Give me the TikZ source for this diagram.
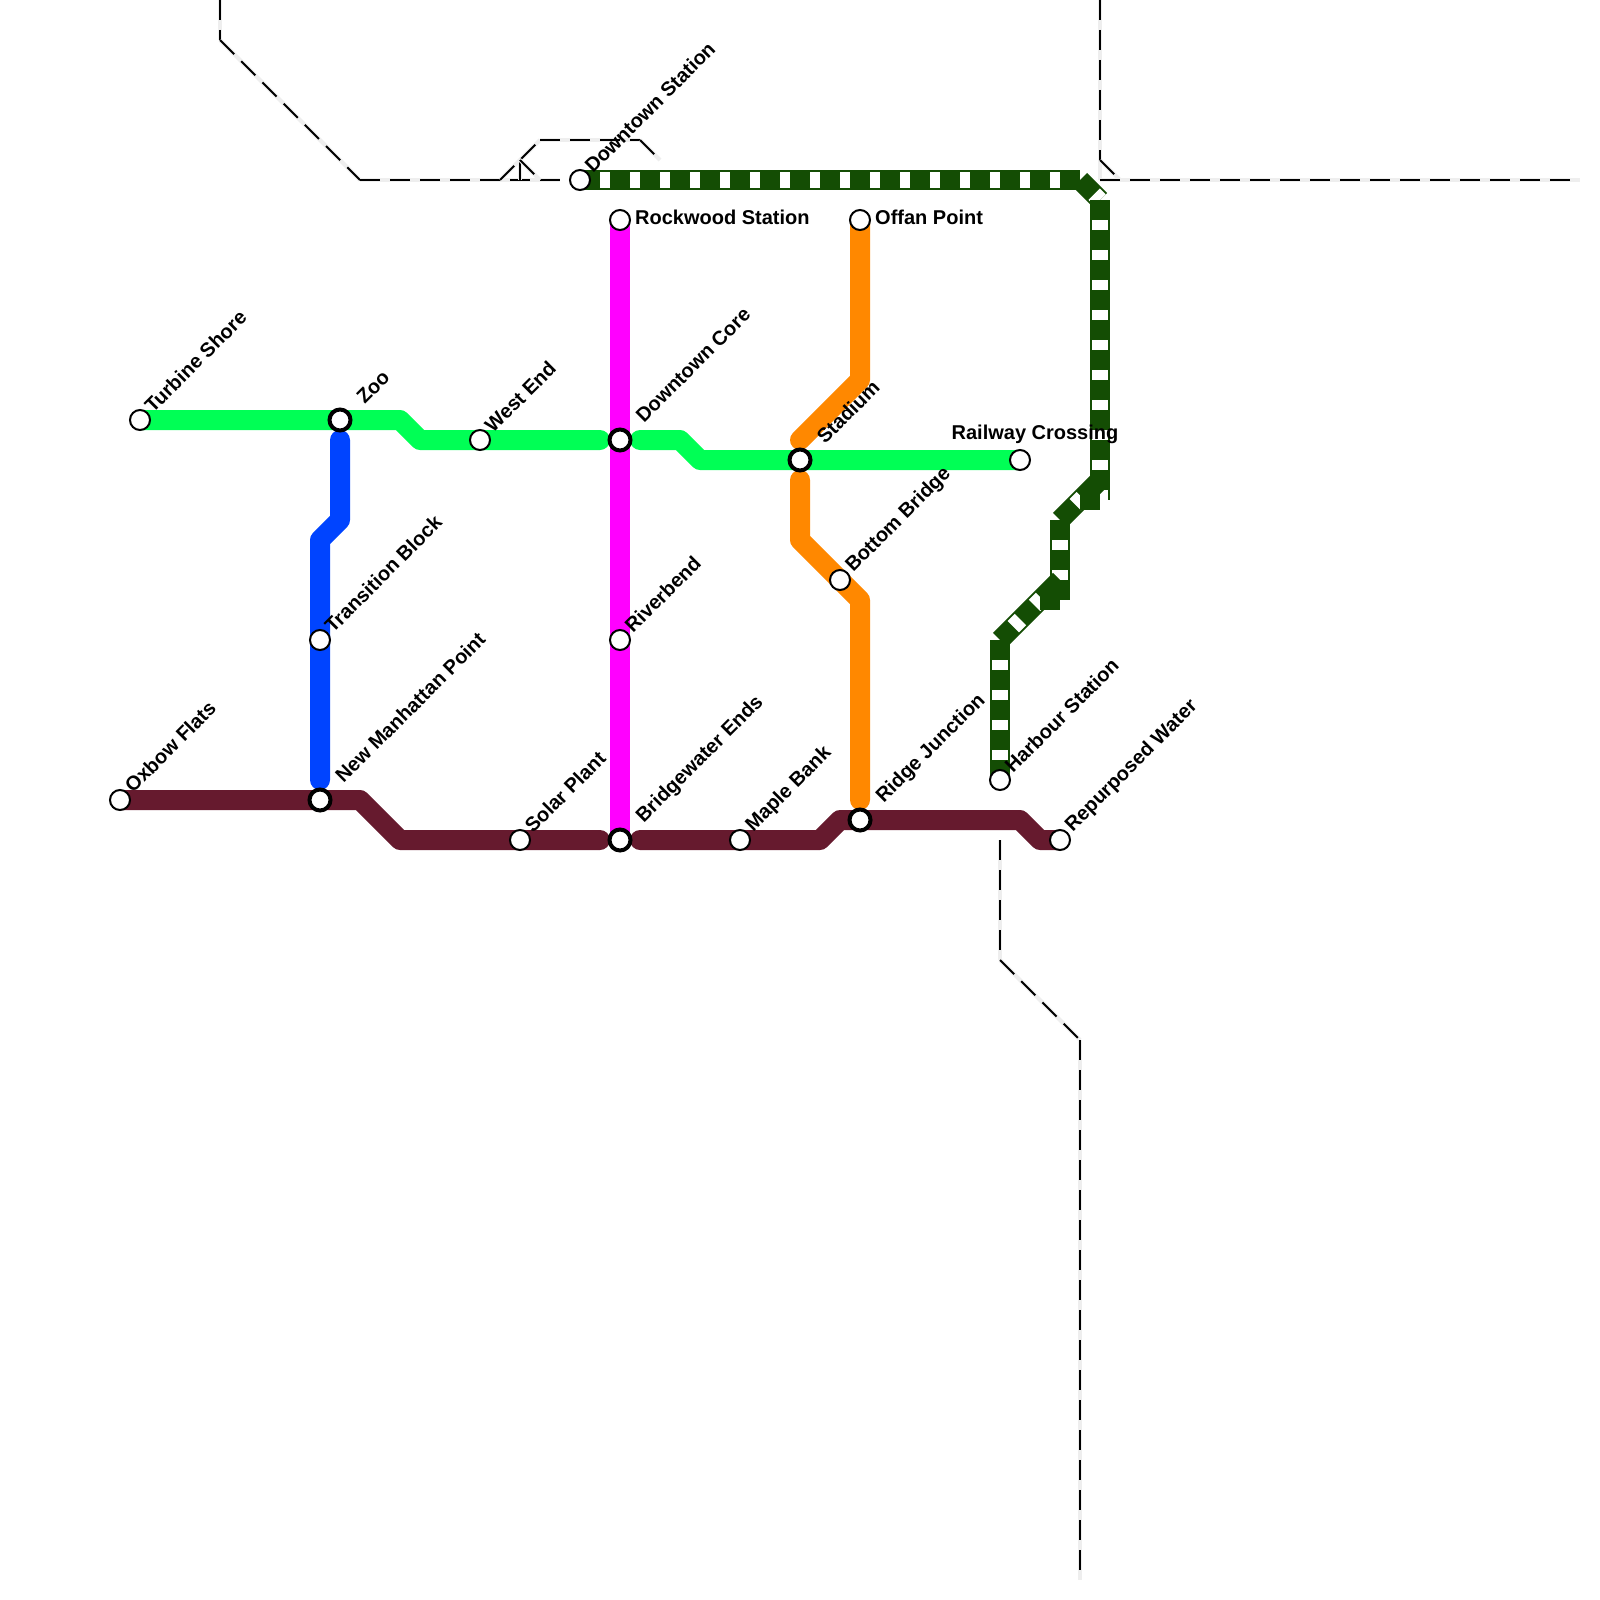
\documentclass[tikz,border=0pt]{standalone}
\usepackage{fontspec}
\setmainfont{Liberation Sans}
\usetikzlibrary{calc}
\pgfdeclarelayer{lines}
\pgfsetlayers{lines,main}
\definecolor{cgreen}{HTML}{00FF55}
\definecolor{cblue}{HTML}{0044FF}
\definecolor{cmag}{HTML}{FF00FF}
\definecolor{corange}{HTML}{FF8800}
\definecolor{cbrown}{HTML}{661A2E}
\definecolor{cdark}{HTML}{144D04}
\definecolor{cgap}{HTML}{EEEEEE}
\tikzset{
  x=1pt,y=-1pt,
  station/.style={circle,draw=black,fill=white,line width=2pt,minimum size=20pt,inner sep=0pt},
  hub/.style={circle,draw=black,fill=white,line width=4pt,minimum size=21pt,inner sep=0pt},
  lab/.style={font=\bfseries\fontsize{20}{24}\selectfont,inner sep=0pt,text=black},
  rlab/.style={lab,rotate=45,anchor=west},
  metro/.style={line width=20pt,line cap=round,line join=round},
  gapline/.style={line width=4pt,cgap},
  dashline/.style={line width=2pt,black,dash pattern=on 20pt off 10pt},
  darkseg/.style={line width=20pt,cdark},
  whiteseg/.style={line width=16pt,white,dash pattern=on 10pt off 20pt,dash phase=10pt},
  whitebit/.style={line width=16pt,white}
}
\newcommand{\dashseg}[2]{\draw[gapline] (#1) -- (#2); \draw[dashline] (#1) -- (#2);}
\newcommand{\darkrun}[2]{\draw[darkseg] (#1) -- (#2); \draw[whiteseg] (#1) -- (#2);}
\begin{document}
\begin{tikzpicture}
\useasboundingbox (0,0) rectangle (1600,1600);
% stations
\node[station] (oxbow) at (120,800) {};
\node[station] (turbine) at (140,420) {};
\node[hub] (zoo) at (340,420) {};
\node[station] (westend) at (480,440) {};
\node[hub] (dtcore) at (620,440) {};
\node[hub] (stadium) at (800,460) {};
\node[station] (railway) at (1020,460) {};
\node[station] (rockwood) at (620,220) {};
\node[station] (offan) at (860,220) {};
\node[station] (dtstation) at (580,180) {};
\node[station] (transition) at (320,640) {};
\node[hub] (manhattan) at (320,800) {};
\node[station] (riverbend) at (620,640) {};
\node[hub] (bridgewater) at (620,840) {};
\node[station] (solar) at (520,840) {};
\node[station] (maple) at (740,840) {};
\node[hub] (ridge) at (860,820) {};
\node[station] (repurposed) at (1060,840) {};
\node[station] (harbour) at (1000,780) {};
\node[station] (bottom) at (840,580) {};
% labels
\node[lab,anchor=west] (lrockwood) at (635,217) {Rockwood Station};
\node[lab,anchor=west] (loffan) at (875,217) {Offan Point};
\node[lab] (lrailway) at (1035,434) {Railway Crossing};
\node[rlab] (loxbow) at ($(oxbow)+(8,-11)$) {Oxbow Flats};
\node[rlab] (lturbine) at ($(turbine)+(8,-11)$) {Turbine Shore};
\node[rlab] (lwestend) at ($(westend)+(8,-11)$) {West End};
\node[rlab] (ldtstation) at ($(dtstation)+(8,-11)$) {Downtown Station};
\node[rlab] (ltransition) at ($(transition)+(8,-11)$) {Transition Block};
\node[rlab] (lriverbend) at ($(riverbend)+(8,-11)$) {Riverbend};
\node[rlab] (lsolar) at ($(solar)+(8,-11)$) {Solar Plant};
\node[rlab] (lmaple) at ($(maple)+(9.5,-11)$) {Maple Bank};
\node[rlab] (lrepurposed) at ($(repurposed)+(9,-11)$) {Repurposed Water};
\node[rlab] (lharbour) at ($(harbour)+(8,-11)$) {Harbour Station};
\node[rlab] (lbottom) at ($(bottom)+(9.5,-10.5)$) {Bottom Bridge};
\node[rlab] (lzoo) at ($(zoo)+(20,-20)$) {Zoo};
\node[rlab] (ldtcore) at ($(dtcore)+(19,-21)$) {Downtown Core};
\node[rlab] (lstadium) at ($(stadium)+(20,-20)$) {Stadium};
\node[rlab] (lmanhattan) at ($(manhattan)+(18.5,-21)$) {New Manhattan Point};
\node[rlab] (lbridgewater) at ($(bridgewater)+(20,-20)$) {Bridgewater Ends};
\node[rlab] (lridge) at ($(ridge)+(20,-20)$) {Ridge Junction};
% way points
\foreach \n/\p in {
  a0/{220,0},a1/{220,40},a2/{360,180},a3/{560,180},a4/{500,180},a5/{540,140},a6/{640,140},a7/{660,160},
  a8/{520,160},a9/{520,180},a10/{540,180},
  c0/{1100,0},c1/{1100,160},c2/{1120,180},c3/{1100,180},c4/{1580,180},
  d0/{1000,840},d1/{1000,960},d2/{1080,1040},d3/{1080,1580},
  g1/{400,420},g2/{420,440},g3/{600,440},g4/{640,440},g5/{680,440},g6/{700,460},
  b1/{360,800},b2/{400,840},b3/{600,840},b4/{640,840},b5/{820,840},b6/{840,820},b7/{1020,820},b8/{1040,840},
  u1/{340,440},u2/{340,520},u3/{320,540},u4/{320,780},
  o1/{860,380},o2/{800,440},o3/{800,480},o4/{800,540},o5/{860,600},o6/{860,800},
  k1/{1080,180},k2/{1100,200},k3/{1100,500},k4/{1100,480},k5/{1060,520},k6/{1060,600},k7/{1060,580},k8/{1000,640},
  m1/{1090,490},m2/{1090,510},m3/{1050,590},m4/{1050,610}}{
  \coordinate (\n) at (\p);
}
\begin{pgfonlayer}{lines}
% dashed lines
\dashseg{a0}{a1}\dashseg{a1}{a2}\dashseg{a2}{a3}\dashseg{a4}{a5}\dashseg{a5}{a6}\dashseg{a6}{a7}
\dashseg{a8}{a9}\dashseg{a8}{a10}
\draw[gapline] (c1) -- (c3);
\dashseg{c0}{c1}\dashseg{c1}{c2}\dashseg{c3}{c4}
\dashseg{d0}{d1}\dashseg{d1}{d2}\dashseg{d2}{d3}
% solid lines
\draw[metro,cgreen] (turbine.center) -- (g1) -- (g2) -- (g3);
\draw[metro,cgreen] (g4) -- (g5) -- (g6) -- (railway.center);
\draw[metro,cbrown] (oxbow.center) -- (b1) -- (b2) -- (b3);
\draw[metro,cbrown] (b4) -- (b5) -- (b6) -- (b7) -- (b8) -- (repurposed.center);
\draw[metro,cblue] (u1) -- (u2) -- (u3) -- (u4);
\draw[line width=20pt,cmag] (rockwood.center) -- (bridgewater.center);
\draw[metro,corange] (offan.center) -- (o1) -- (o2);
\draw[metro,corange] (o3) -- (o4) -- (o5) -- (o6);
% dark line with white bars
\darkrun{dtstation.center}{k1}
\darkrun{k1}{k2}
\darkrun{k2}{k3}
\darkrun{k5}{k6}
\draw[darkseg] (k4) -- (k5);
\draw[whitebit] ($(k4)!25pt!(k5)$) -- ($(k4)!35pt!(k5)$);
\draw[darkseg] (m1) -- (m2);
\draw[darkseg] (k7) -- (k8);
\draw[whitebit] ($(k7)!26pt!(k8)$) -- ($(k7)!36pt!(k8)$);
\draw[whitebit] ($(k7)!56pt!(k8)$) -- ($(k7)!66pt!(k8)$);
\draw[darkseg] (m3) -- (m4);
\darkrun{k8}{harbour.center}
\end{pgfonlayer}
\end{tikzpicture}
\end{document}
